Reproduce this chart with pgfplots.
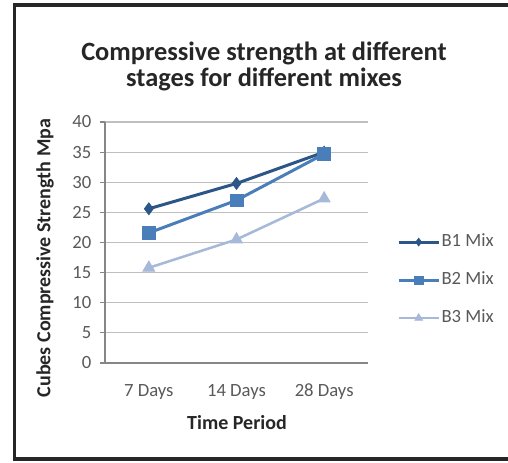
\documentclass[border=0pt]{standalone}
\usepackage{pgfplots}
\pgfplotsset{compat=1.18}
\usepackage{fontspec}
\setmainfont{Carlito}
\definecolor{bone}{HTML}{2B5687}
\definecolor{btwo}{HTML}{4A7EBB}
\definecolor{bthree}{HTML}{A7B9D9}
\definecolor{gridc}{HTML}{BFBFBF}
\definecolor{axc}{HTML}{868686}
\definecolor{tickc}{HTML}{595959}
\definecolor{labc}{HTML}{262626}

\begin{document}
\begin{tikzpicture}[x=0.75pt,y=0.75pt]
\useasboundingbox (-105,-99) rectangle (403,363);
% outer frame (right side is cut off in the original)
\draw[line width=2.4pt, labc] (410,358) -- (-90.5,358) -- (-90.5,-96) -- (410,-96);
\begin{axis}[
  at={(0,0)}, anchor=south west,
  scale only axis, width=197.25pt, height=180.75pt,
  xmin=-0.5, xmax=2.5, ymin=0, ymax=40,
  xtick={0,1,2}, xticklabels={7 Days,14 Days,28 Days},
  ytick distance=5,
  /pgf/number format/assume math mode=true,
  axis x line*=bottom, axis y line*=left,
  axis line style={draw=axc, line width=0.9pt, -},
  ymajorgrids, major grid style={draw=gridc, line width=0.9pt},
  xtick style={draw=none},
  ytick style={draw=axc, line width=0.9pt},
  tick align=outside, major tick length=3.75pt,
  ticklabel style={font=\fontsize{14}{16}\selectfont, text=tickc},
  yticklabel style={xshift=-3pt},
  xticklabel style={yshift=-8pt, text height=10pt, text depth=3pt},
  clip=false,
  legend style={at={(1.11,0.344)}, anchor=west, draw=none, fill=none,
    inner sep=0pt, row sep=15.5pt,
    font=\fontsize{14}{16}\selectfont, text=tickc,
    nodes={inner xsep=1pt, inner ysep=0pt, text height=10pt, text depth=3pt}},
  legend cell align=left,
  legend image code/.code={
    \draw[#1, mark=none] (0pt,0pt) -- (30pt,0pt);
    \draw[#1, every mark/.append style={scale=0.65}] plot coordinates {(15pt,0pt)};
  },
]
\addplot[color=bone, line width=2.25pt, mark=diamond*,
  mark options={solid, line width=0.5pt, fill=bone}, mark size=4.5pt]
  coordinates {(0,25.6) (1,29.8) (2,35.0)};
\addplot[color=btwo, line width=2.25pt, mark=square*,
  mark options={solid, line width=0.5pt, fill=btwo}, mark size=4.8pt]
  coordinates {(0,21.6) (1,27.0) (2,34.7)};
\addplot[color=bthree, line width=1.9pt, mark=triangle*,
  mark options={solid, line width=0.5pt, fill=bthree}, mark size=5.2pt]
  coordinates {(0,15.8) (1,20.5) (2,27.3)};
\legend{B1 Mix, B2 Mix, B3 Mix}
\end{axis}
\node[font=\bfseries\fontsize{19.8}{20}\selectfont, text=labc] at (159,309.7) {Compressive strength at different};
\node[font=\bfseries\fontsize{19.8}{20}\selectfont, text=labc] at (159,284) {stages for different mixes};
\node[rotate=90, font=\bfseries\fontsize{15}{16}\selectfont, text=labc] at (-60,105) {Cubes Compressive Strength Mpa};
\node[font=\bfseries\fontsize{15}{16}\selectfont, text=labc] at (132,-60) {Time Period};
\end{tikzpicture}
\end{document}
